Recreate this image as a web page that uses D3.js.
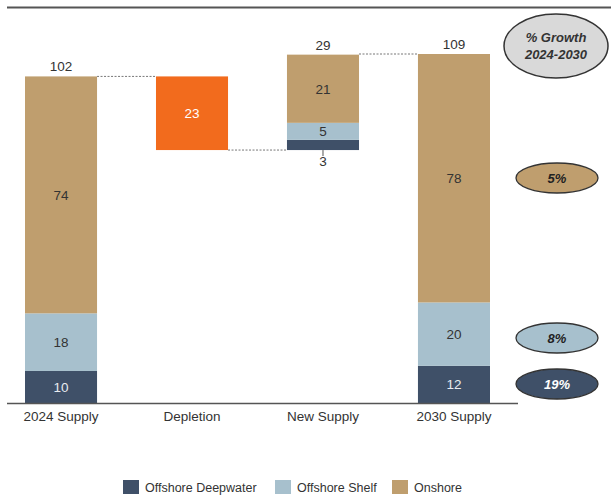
<!DOCTYPE html>
<html><head><meta charset="utf-8">
<script src="https://cdn.jsdelivr.net/npm/d3@7"></script>
<style>body{margin:0;background:#fff;font-family:"Liberation Sans",Arial,sans-serif}</style>
</head><body><svg id="c" width="611" height="495"></svg>
<script>
const categories = ["2024 Supply", "Depletion", "New Supply", "2030 Supply"];
const seriesNames = ["Offshore Deepwater", "Offshore Shelf", "Onshore"];
// segment values (unrounded estimates; labels shown rounded)
const deepwater = [10, 0, 3.2, 11.6];
const shelf = [18, 0, 5.3, 19.8];
const onshore = [74, 0, 21.3, 77.6];
const depletion = [0, 23, 0, 0];
const totals = [102, 23, 29, 109];
const growthLabels = ["5%", "8%", "19%"];

const colors = {"Offshore Deepwater": "#3f5068", "Offshore Shelf": "#a7c0cd", "Onshore": "#bf9e6e"};
const orange = "#f26b1d";
const svg = d3.select("#c");
const fmt = d3.format(".0f");

const x = d3.scaleBand().domain(categories).range([25, 490]).paddingInner(0.45).paddingOuter(0);
const y = d3.scaleLinear().domain([0, 109]).range([403, 54]);

// top rule
svg.append("line").attr("x1", 7).attr("x2", 611).attr("y1", 7.5).attr("y2", 7.5).attr("stroke", "#555").attr("stroke-width", 2);

const base = [0, totals[0] - depletion[1], totals[0] - depletion[1], 0];

categories.forEach((c, i) => {
  let cum = base[i];
  const cx = x(c) + x.bandwidth()/2;
  if (depletion[i] > 0) {
    svg.append("rect").attr("x", x(c)).attr("width", x.bandwidth())
      .attr("y", y(cum + depletion[i])).attr("height", y(cum) - y(cum + depletion[i])).attr("fill", orange);
    svg.append("text").attr("x", cx).attr("y", y(cum + depletion[i]/2) + 5)
      .attr("text-anchor", "middle").attr("font-size", 13.5).attr("fill", "#fff").text(fmt(depletion[i]));
    return;
  }
  const segs = [["Offshore Deepwater", deepwater[i]], ["Offshore Shelf", shelf[i]], ["Onshore", onshore[i]]];
  segs.forEach(([name, v]) => {
    if (!v) return;
    svg.append("rect").attr("x", x(c)).attr("width", x.bandwidth())
      .attr("y", y(cum + v)).attr("height", y(cum) - y(cum + v)).attr("fill", colors[name]);
    const small = (y(cum) - y(cum + v)) < 14;
    if (small) {
      svg.append("line").attr("x1", cx).attr("x2", cx)
        .attr("y1", y(cum)).attr("y2", y(cum) + 6).attr("stroke", "#555").attr("stroke-width", 1);
      svg.append("text").attr("x", cx).attr("y", y(cum) + 16)
        .attr("text-anchor", "middle").attr("font-size", 13.5).attr("fill", "#333").text(fmt(v));
    } else {
      svg.append("text").attr("x", cx).attr("y", y(cum + v/2) + 5)
        .attr("text-anchor", "middle").attr("font-size", 13.5)
        .attr("fill", name === "Offshore Deepwater" ? "#e8ecf0" : "#333").text(fmt(v));
    }
    cum += v;
  });
  svg.append("text").attr("x", cx).attr("y", y(cum) - 5)
    .attr("text-anchor", "middle").attr("font-size", 13.5).attr("fill", "#333").text(totals[i]);
});

// connectors
const conn = [
  [categories[0], categories[1], totals[0]],
  [categories[1], categories[2], totals[0] - depletion[1]],
  [categories[2], categories[3], totals[3]]
];
conn.forEach(([a, b, v]) => {
  svg.append("line").attr("x1", x(a) + x.bandwidth()).attr("x2", x(b))
    .attr("y1", y(v)).attr("y2", y(v)).attr("stroke", "#777").attr("stroke-width", 1).attr("stroke-dasharray", "2,1.5");
});

// axis
const axis = svg.append("g").attr("transform", `translate(0,${y(0)})`)
  .call(d3.axisBottom(x).tickSize(0).tickPadding(8));
axis.select(".domain").remove();
axis.selectAll("text").attr("font-size", 13.5).attr("fill", "#333").attr("font-family", "Liberation Sans, Arial, sans-serif");
svg.append("line").attr("x1", 7).attr("x2", 518).attr("y1", y(0) + 0.5).attr("y2", y(0) + 0.5).attr("stroke", "#555").attr("stroke-width", 1.5);

// growth ellipses
const ex = 557;
const g0 = svg.append("g");
g0.append("ellipse").attr("cx", 556).attr("cy", 46).attr("rx", 52).attr("ry", 32)
  .attr("fill", "#d9d9d9").attr("stroke", "#333").attr("stroke-width", 1.5);
g0.append("text").attr("x", 556).attr("y", 42).attr("text-anchor", "middle").attr("font-size", 13)
  .attr("font-weight", "bold").attr("font-style", "italic").attr("fill", "#333").text("% Growth");
g0.append("text").attr("x", 556).attr("y", 59).attr("text-anchor", "middle").attr("font-size", 13)
  .attr("font-weight", "bold").attr("font-style", "italic").attr("fill", "#333").text("2024-2030");

const ellipseNames = ["Onshore", "Offshore Shelf", "Offshore Deepwater"];
const ellipseY = [178, 338, 384];
growthLabels.forEach((lab, i) => {
  const name = ellipseNames[i];
  svg.append("ellipse").attr("cx", ex).attr("cy", ellipseY[i]).attr("rx", 41).attr("ry", 15)
    .attr("fill", colors[name]).attr("stroke", "#333").attr("stroke-width", 1.3);
  svg.append("text").attr("x", ex).attr("y", ellipseY[i] + 5).attr("text-anchor", "middle")
    .attr("font-size", 13).attr("font-weight", "bold").attr("font-style", "italic")
    .attr("fill", name === "Offshore Deepwater" ? "#fff" : "#222").text(lab);
});

// legend
const legX = [123, 275, 392];
seriesNames.forEach((n, i) => {
  svg.append("rect").attr("x", legX[i]).attr("y", 480).attr("width", 16).attr("height", 14).attr("fill", colors[n]);
  svg.append("text").attr("x", legX[i] + 22).attr("y", 492).attr("font-size", 12.5).attr("fill", "#333").text(n);
});
</script></body></html>
